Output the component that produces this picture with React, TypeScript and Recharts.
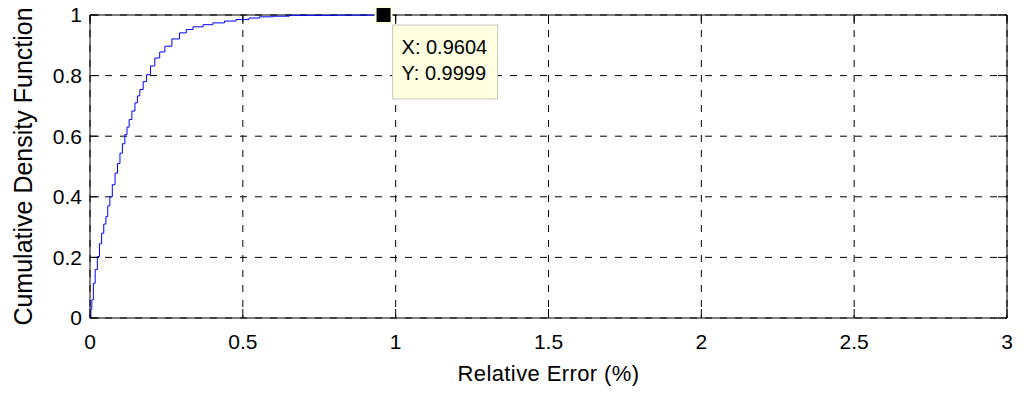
import React from 'react';
import { LineChart, Line, XAxis, YAxis, CartesianGrid, ReferenceLine, ReferenceDot } from 'recharts';

// cumulative distribution of the relative error
const errorPct = [
  0, 0.003, 0.006, 0.011, 0.017, 0.024, 0.031, 0.038, 0.045, 0.052, 0.058, 0.065, 0.073, 0.082,
  0.09, 0.098, 0.106, 0.114, 0.121, 0.128, 0.137, 0.147, 0.155, 0.163, 0.174, 0.185, 0.198, 0.212,
  0.228, 0.245, 0.268, 0.293, 0.315, 0.337, 0.37, 0.402, 0.44, 0.478, 0.52, 0.554, 0.6, 0.652, 0.8,
  0.9604,
];
const cdf = [
  0, 0.03, 0.06, 0.115, 0.16, 0.203, 0.245, 0.28, 0.31, 0.335, 0.37, 0.4, 0.44, 0.478,
  0.51, 0.544, 0.575, 0.605, 0.63, 0.655, 0.683, 0.71, 0.733, 0.754, 0.78, 0.803, 0.832, 0.858,
  0.878, 0.897, 0.921, 0.941, 0.952, 0.961, 0.968, 0.974, 0.98, 0.985, 0.99, 0.994, 0.996, 0.999, 0.9995,
  0.9999,
];
const xTicks = [0, 0.5, 1, 1.5, 2, 2.5, 3];
const yTicks = [0, 0.2, 0.4, 0.6, 0.8, 1];
const tipX = 0.9604;
const tipY = 0.9999;

const data = errorPct.map((x, i) => ({ x, y: cdf[i] }));

const FONT = '"Liberation Sans", Arial, Helvetica, sans-serif';
const W = 1023;
const H = 394;
const M = { top: 15, right: 16, bottom: 0, left: 0 };
const Y_W = 90;
const X_H = 76;
const PLOT_TOP = M.top;
const PLOT_BOTTOM = H - M.bottom - X_H;
const PLOT_LEFT = M.left + Y_W;
const PLOT_RIGHT = W - M.right;
const TICK_LEN = 9;
const X_MARGIN = 16;
const Y_MARGIN = 8;

const XTick = (props: any) => {
  const { x, payload } = props;
  return (
    <g>
      <line x1={x} x2={x} y1={PLOT_BOTTOM} y2={PLOT_BOTTOM - TICK_LEN} stroke="#000" />
      <line x1={x} x2={x} y1={PLOT_TOP} y2={PLOT_TOP + TICK_LEN} stroke="#000" />
      <text x={x} y={PLOT_BOTTOM + X_MARGIN} dy="0.71em" textAnchor="middle" fill="#000" fontSize={21} fontFamily={FONT}>
        {payload.value}
      </text>
    </g>
  );
};

const YTick = (props: any) => {
  const { y, payload } = props;
  return (
    <g>
      <line x1={PLOT_LEFT} x2={PLOT_LEFT + TICK_LEN} y1={y} y2={y} stroke="#000" />
      <line x1={PLOT_RIGHT} x2={PLOT_RIGHT - TICK_LEN} y1={y} y2={y} stroke="#000" />
      <text x={PLOT_LEFT - Y_MARGIN} y={y} dy="0.355em" textAnchor="end" fill="#000" fontSize={21} fontFamily={FONT}>
        {payload.value}
      </text>
    </g>
  );
};

const DataTip = (props: any) => {
  const { cx, cy } = props;
  return (
    <g>
      <rect x={cx + 9} y={cy + 10} width={105} height={74} fill="#FFFFE1" stroke="#C8C8C0" />
      <text x={cx + 18} y={cy + 39} fontSize={20} fontFamily={FONT} fill="#000">{`X: ${tipX}`}</text>
      <text x={cx + 18} y={cy + 65} fontSize={20} fontFamily={FONT} fill="#000">{`Y: ${tipY}`}</text>
      <rect x={cx - 9} y={cy - 9} width={18} height={18} fill="#FFFFE1" />
      <rect x={cx - 7} y={cy - 7} width={14} height={14} fill="#000" />
    </g>
  );
};

export default function App() {
  return (
    <div style={{ position: 'absolute', left: 0, top: 0, width: W, height: H, background: '#fff' }}>
      <LineChart width={W} height={H} data={data} margin={M}>
        <CartesianGrid stroke="#000" strokeDasharray="7 8" horizontalValues={yTicks} verticalValues={xTicks} />
        <XAxis
          dataKey="x"
          type="number"
          domain={[0, 3]}
          ticks={xTicks}
          height={X_H}
          tickSize={0}
          tickMargin={X_MARGIN}
          tick={<XTick />}
          axisLine={{ stroke: '#000' }}
          interval={0}
          label={{
            content: () => (
              <text
                x={(PLOT_LEFT + PLOT_RIGHT) / 2}
                y={381}
                textAnchor="middle"
                fontSize={22}
                letterSpacing={0.4}
                fontFamily={FONT}
                fill="#000"
              >
                Relative Error (%)
              </text>
            ),
          }}
        />
        <YAxis
          type="number"
          domain={[0, 1]}
          ticks={yTicks}
          width={Y_W}
          tickSize={0}
          tickMargin={Y_MARGIN}
          tick={<YTick />}
          axisLine={{ stroke: '#000' }}
          interval={0}
          label={{
            content: () => (
              <text
                transform={`translate(32, ${(PLOT_TOP + PLOT_BOTTOM) / 2}) rotate(-90)`}
                textAnchor="middle"
                fontSize={25}
                fontFamily={FONT}
                fill="#000"
              >
                Cumulative Density Function
              </text>
            ),
          }}
        />
        <ReferenceLine y={1} stroke="#000" />
        <ReferenceLine x={3} stroke="#000" />
        <Line
          type="stepAfter"
          dataKey="y"
          stroke="#0000FF"
          strokeWidth={1}
          dot={false}
          isAnimationActive={false}
        />
        <ReferenceDot x={tipX} y={tipY} r={7} shape={<DataTip />} />
      </LineChart>
    </div>
  );
}
